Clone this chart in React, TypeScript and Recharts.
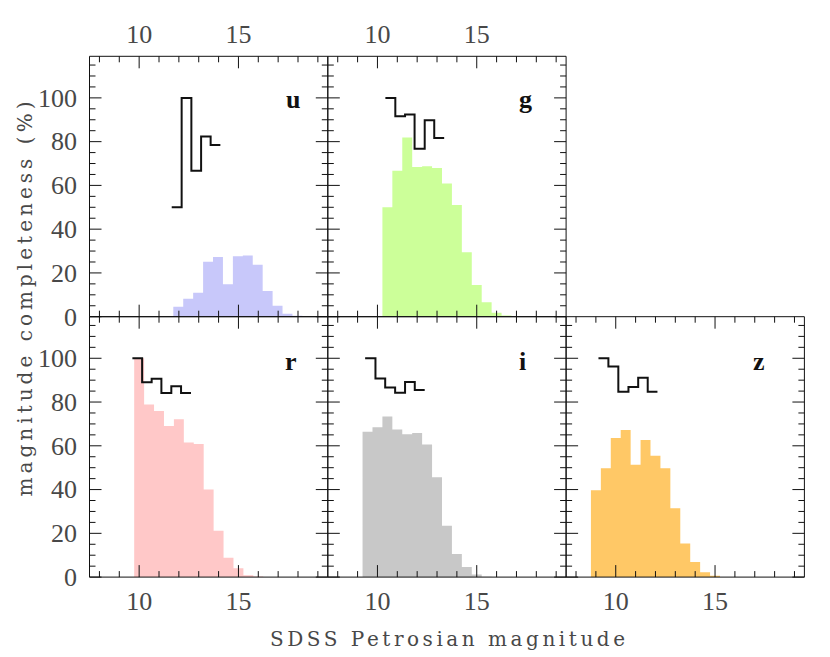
import React from 'react';
import { ComposedChart, Area, Line, XAxis, YAxis } from 'recharts';

const W = 830;
const H = 657;
const X_DOMAIN: [number, number] = [7.5, 19.5];
const Y_DOMAIN: [number, number] = [0, 119];
const X_TICKS = [8, 9, 10, 11, 12, 13, 14, 15, 16, 17, 18, 19];
const X_MAJOR = [10, 15];
const Y_TICKS = [0, 5, 10, 15, 20, 25, 30, 35, 40, 45, 50, 55, 60, 65, 70, 75, 80, 85, 90, 95, 100, 105, 110, 115];
const Y_MAJOR = [0, 20, 40, 60, 80, 100];
const BIN = 0.5;

const bands = ['u', 'g', 'r', 'i', 'z'];
const bandColors = ['#c8c8fa', '#ccff99', '#ffc8c8', '#c8c8c8', '#ffc866'];

// histogram (%) per band: first bin edge + values
const uHistStart = 11.72;
const uHist = [4.6, 8.2, 11.0, 25.1, 27.3, 14.8, 27.6, 28.0, 23.7, 11.7, 5.0, 1.4, 0.4];
const gHistStart = 10.25;
const gHist = [50.0, 66.7, 81.9, 68.4, 68.8, 68.0, 60.9, 51.1, 29.5, 14.5, 6.6, 1.8, 0.5];
const rHistStart = 9.75;
const rHist = [100.0, 78.9, 75.9, 69.1, 72.1, 61.5, 60.8, 40.0, 21.2, 8.9, 4.0, 0.8, 0.3];
const iHistStart = 9.25;
const iHist = [66.4, 68.5, 73.4, 67.5, 65.3, 65.9, 60.6, 45.6, 23.5, 10.5, 4.6, 1.2, 0.2];
const zHistStart = 8.75;
const zHist = [39.7, 49.8, 63.6, 67.2, 51.3, 62.7, 55.4, 49.8, 31.5, 15.4, 6.9, 2.2, 0.6];

// completeness step lines: bin edges + values
const uCompEdges = [11.64, 12.14, 12.63, 13.12, 13.6, 14.09];
const uComp = [50, 100, 66.7, 82.4, 78.5];
const gCompEdges = [10.4, 10.9, 11.39, 11.87, 12.38, 12.86, 13.36];
const gComp = [100, 91.6, 92.4, 76.7, 89.8, 81.7];
const rCompEdges = [9.66, 10.15, 10.63, 11.12, 11.62, 12.11, 12.61];
const rComp = [100, 89.0, 90.7, 84.1, 87.2, 84.1];
const iCompEdges = [9.38, 9.9, 10.39, 10.89, 11.39, 11.88, 12.38];
const iComp = [100, 90.8, 86.7, 84.3, 89.2, 85.5];
const zCompEdges = [9.13, 9.63, 10.13, 10.64, 11.13, 11.61, 12.1];
const zComp = [100, 96.2, 84.7, 86.9, 91.1, 84.7];

const histStarts = [uHistStart, gHistStart, rHistStart, iHistStart, zHistStart];
const hists = [uHist, gHist, rHist, iHist, zHist];
const compEdges = [uCompEdges, gCompEdges, rCompEdges, iCompEdges, zCompEdges];
const comps = [uComp, gComp, rComp, iComp, zComp];

const FONT = "'Liberation Serif', 'DejaVu Serif', serif";
const TITLE_FONT = "'DejaVu Serif', serif";
const LABEL_FILL = '#484848';

const colX = [89.5, 327.8, 566.1];
const colW = 238.3;
const rowY = [56.3, 316.7];
const rowH = 260.4;
const AX = 10; // axis box size (labels are drawn by custom ticks)

const layout = [
  { col: 0, row: 0, top: true, bottom: false, left: true, lx: 286, ly: 108.3 },
  { col: 1, row: 0, top: true, bottom: false, left: false, lx: 519, ly: 108.3 },
  { col: 0, row: 1, top: false, bottom: true, left: true, lx: 285, ly: 370 },
  { col: 1, row: 1, top: false, bottom: true, left: false, lx: 519, ly: 370 },
  { col: 2, row: 1, top: false, bottom: true, left: false, lx: 753, ly: 370 },
];

const makeTick = (side: string, majors: number[], labels: boolean) => (props: any) => {
  const { x, y, payload } = props;
  const v = payload.value;
  const major = majors.includes(v);
  const len = major ? 12 : 6;
  const stroke = '#111';
  let line: any = null;
  let text: any = null;
  const tp = { fontFamily: FONT, fontSize: 26, fill: LABEL_FILL };
  if (side === 'bottom') {
    line = <line x1={x} y1={y} x2={x} y2={y - len} stroke={stroke} strokeWidth={1} />;
    if (labels && major) text = <text x={x} y={y + 33} textAnchor="middle" {...tp}>{v}</text>;
  } else if (side === 'top') {
    line = <line x1={x} y1={y} x2={x} y2={y + len} stroke={stroke} strokeWidth={1} />;
    if (labels && major) text = <text x={x} y={y - 13.4} textAnchor="middle" {...tp}>{v}</text>;
  } else if (side === 'left') {
    line = <line x1={x} y1={y} x2={x + len} y2={y} stroke={stroke} strokeWidth={1} />;
    if (labels && major) text = <text x={x - 12.6} y={y + 8.8} textAnchor="end" {...tp}>{v}</text>;
  } else {
    line = <line x1={x} y1={y} x2={x - len} y2={y} stroke={stroke} strokeWidth={1} />;
  }
  return <g>{line}{text}</g>;
};

function Panel({ idx }: { idx: number }) {
  const L = layout[idx];
  const left = colX[L.col];
  const top = rowY[L.row];
  const start = histStarts[idx];
  const h = hists[idx];
  const histData = h.map((v, i) => ({ x: start + i * BIN, y: v }));
  histData.push({ x: start + h.length * BIN, y: h[h.length - 1] });
  const edges = compEdges[idx];
  const c = comps[idx];
  const compData = edges.map((e, i) => ({ x: e, y: c[Math.min(i, c.length - 1)] }));
  const axisLine = { stroke: '#111', strokeWidth: 1 };
  return (
    <div style={{ position: 'absolute', left: 0, top: 0 }}>
      <ComposedChart
        width={W}
        height={H}
        margin={{ top: top - AX, left: left - AX, right: W - left - colW - AX, bottom: H - top - rowH - AX }}
      >
        <Area xAxisId="b" yAxisId="l" data={histData} dataKey="y" type="stepAfter"
          stroke="none" fill={bandColors[idx]} fillOpacity={1} dot={false} activeDot={false}
          isAnimationActive={false} />
        <Line xAxisId="b" yAxisId="l" data={compData} dataKey="y" type="stepAfter"
          stroke="#111" strokeWidth={2} dot={false} activeDot={false} isAnimationActive={false} />
        <XAxis xAxisId="b" orientation="bottom" type="number" dataKey="x" domain={X_DOMAIN}
          allowDataOverflow ticks={X_TICKS} interval={0} height={AX} tickSize={0} tickMargin={0}
          tickLine={false} axisLine={axisLine} tick={makeTick('bottom', X_MAJOR, L.bottom)} />
        <XAxis xAxisId="t" orientation="top" type="number" dataKey="x" domain={X_DOMAIN}
          allowDataOverflow ticks={X_TICKS} interval={0} height={AX} tickSize={0} tickMargin={0}
          tickLine={false} axisLine={axisLine} tick={makeTick('top', X_MAJOR, L.top)} />
        <YAxis yAxisId="l" orientation="left" type="number" domain={Y_DOMAIN}
          allowDataOverflow ticks={Y_TICKS} interval={0} width={AX} tickSize={0} tickMargin={0}
          tickLine={false} axisLine={axisLine} tick={makeTick('left', Y_MAJOR, L.left)} />
        <YAxis yAxisId="r" orientation="right" type="number" domain={Y_DOMAIN}
          allowDataOverflow ticks={Y_TICKS} interval={0} width={AX} tickSize={0} tickMargin={0}
          tickLine={false} axisLine={axisLine} tick={makeTick('right', Y_MAJOR, false)} />
      </ComposedChart>
    </div>
  );
}

export default function App() {
  return (
    <div style={{ position: 'absolute', left: 0, top: 0, width: W, height: H, background: '#fff' }}>
      {bands.map((b, i) => <Panel key={b} idx={i} />)}
      <svg width={W} height={H} style={{ position: 'absolute', left: 0, top: 0, pointerEvents: 'none' }}>
        {bands.map((b, i) => (
          <text key={b} x={layout[i].lx} y={layout[i].ly} fontFamily={FONT} fontWeight="bold"
            fontSize={26} fill="#111">{b}</text>
        ))}
        <text x={447.5} y={646} textAnchor="middle" fontFamily={TITLE_FONT} fontSize={20}
          fill={LABEL_FILL} textLength={355} lengthAdjust="spacing">SDSS Petrosian magnitude</text>
        <text x={0} y={0} transform="translate(31.7,299) rotate(-90)" textAnchor="middle"
          fontFamily={TITLE_FONT} fontSize={20} fill={LABEL_FILL} textLength={395}
          lengthAdjust="spacing">magnitude completeness (%)</text>
      </svg>
    </div>
  );
}
